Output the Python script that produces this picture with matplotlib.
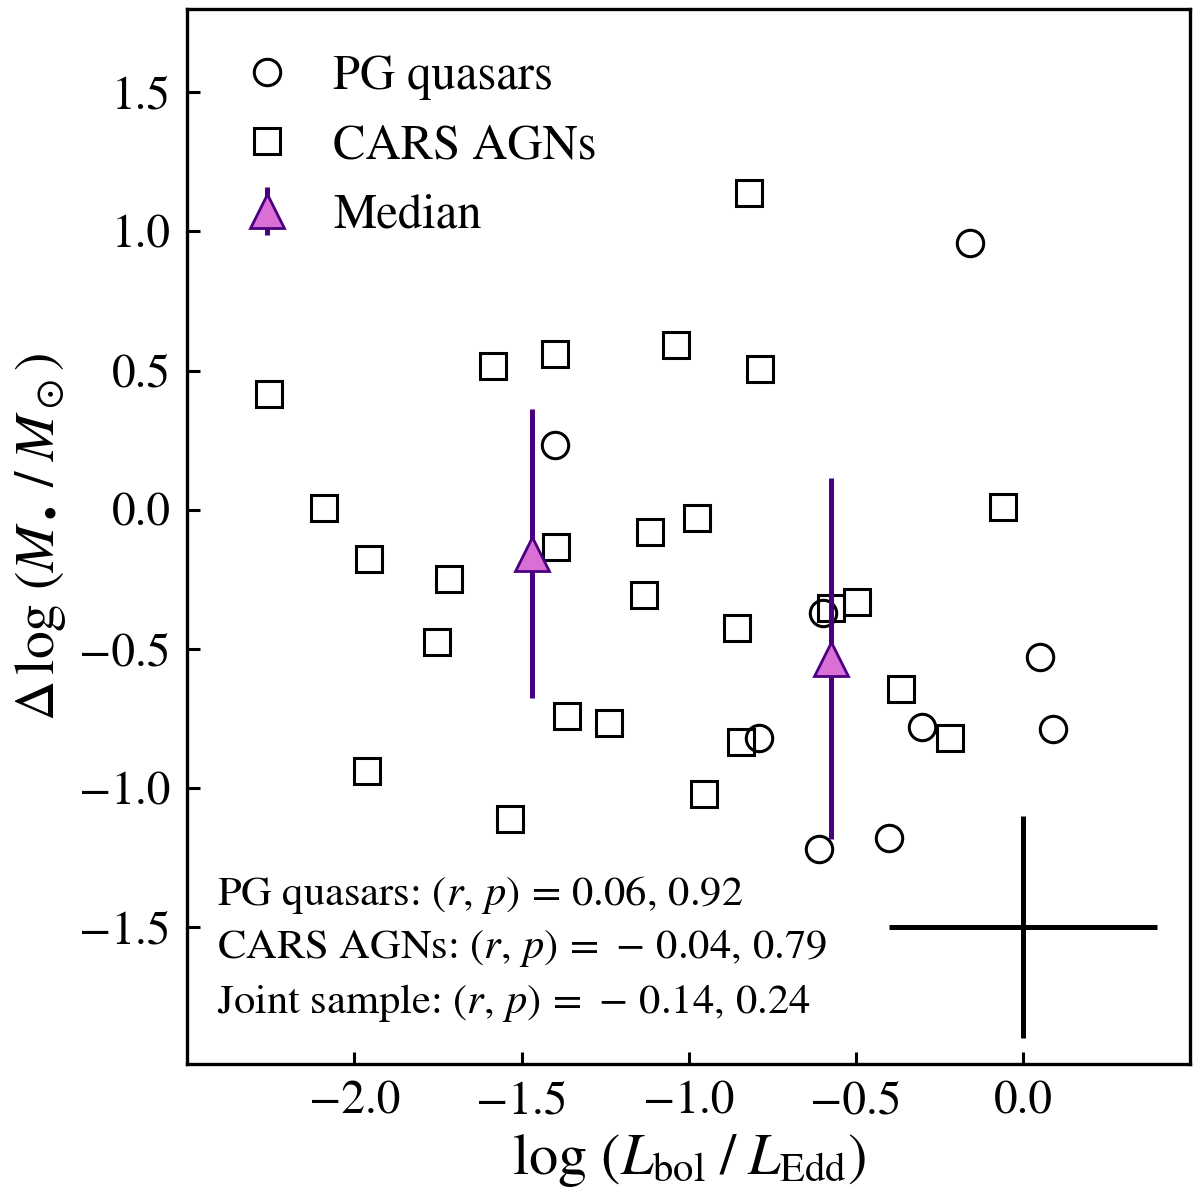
import matplotlib
matplotlib.use("Agg")
import matplotlib.pyplot as plt

plt.rcParams["font.family"] = "STIXGeneral"
plt.rcParams["mathtext.fontset"] = "stix"

# PG quasars (circles)
pg_x = [-1.399, -0.160, -0.600, -0.790, -0.612, -0.401, -0.303, 0.051, 0.089]
pg_y = [0.234, 0.960, -0.371, -0.820, -1.219, -1.180, -0.781, -0.529, -0.788]

# CARS AGNs (squares)
cars_x = [-2.255, -2.092, -1.955, -1.961, -1.717, -1.753, -1.586, -1.536, -1.399,
          -1.396, -1.364, -1.239, -1.135, -1.117, -1.037, -0.974, -0.954, -0.856,
          -0.844, -0.820, -0.787, -0.576, -0.496, -0.365, -0.220, -0.059]
cars_y = [0.417, 0.004, -0.176, -0.939, -0.248, -0.475, 0.518, -1.112, 0.561,
          -0.133, -0.741, -0.766, -0.306, -0.079, 0.590, -0.032, -1.022, -0.424,
          -0.835, 1.137, 0.504, -0.353, -0.331, -0.644, -0.820, 0.011]

# binned medians
med_x = [-1.468, -0.576]
med_y = [-0.158, -0.536]
med_err = [0.52, 0.65]

# typical uncertainty cross
err_x, err_y = 0.0, -1.5
err_dx, err_dy = 0.4, 0.4

stats = [
    r"PG quasars: $(r,\,p) \,=\, 0.06,\, 0.92$",
    r"CARS AGNs: $(r,\,p) \,=\, -\,0.04,\, 0.79$",
    r"Joint sample: $(r,\,p) \,=\, -\,0.14,\, 0.24$",
]

fig = plt.figure(figsize=(6, 5.98), dpi=200)
ax = fig.add_axes([0.156, 0.110, 0.836, 0.8825])

ax.plot(pg_x, pg_y, "o", ms=9.5, mfc="none", mec="k", mew=1.1, ls="none",
        label="PG quasars")
ax.plot(cars_x, cars_y, "s", ms=9.5, mfc="none", mec="k", mew=1.1, ls="none",
        label="CARS AGNs")
ax.errorbar(med_x, med_y, yerr=med_err, fmt="^", ms=12.5, mfc="orchid",
            mec="indigo", mew=1.0, ecolor="indigo", elinewidth=1.8, capsize=0,
            label="Median", zorder=3)

ax.errorbar(err_x, err_y, xerr=err_dx, yerr=err_dy, fmt="none", ecolor="k",
            elinewidth=1.8, capsize=0)

for i, s in enumerate(stats):
    ax.text(0.030, 0.161 - 0.0515 * i, s, transform=ax.transAxes,
            ha="left", va="center", fontsize=15.3)

ax.set_xlim(-2.5, 0.5)
ax.set_ylim(-1.995, 1.8)
ax.set_xticks([-2.0, -1.5, -1.0, -0.5, 0.0])
ax.set_yticks([-1.5, -1.0, -0.5, 0.0, 0.5, 1.0, 1.5])
ax.tick_params(direction="in", length=4.5, width=1.1, labelsize=17,
               top=False, right=False, pad=6)
for sp in ax.spines.values():
    sp.set_linewidth(1.2)

ax.set_xlabel(r"$\log\,(L_{\rm bol}\;/\;L_{\rm Edd})$", fontsize=21, labelpad=3)
ax.set_ylabel(r"$\Delta\,\log\,(M_\bullet\;/\;M_\odot)$", fontsize=20, labelpad=4)

ax.legend(loc="upper left", frameon=False, fontsize=17.5, handletextpad=0.65,
          borderpad=0.45, labelspacing=0.5, handlelength=1.4,
          borderaxespad=0.5)

fig.savefig("out.png", dpi=200)
